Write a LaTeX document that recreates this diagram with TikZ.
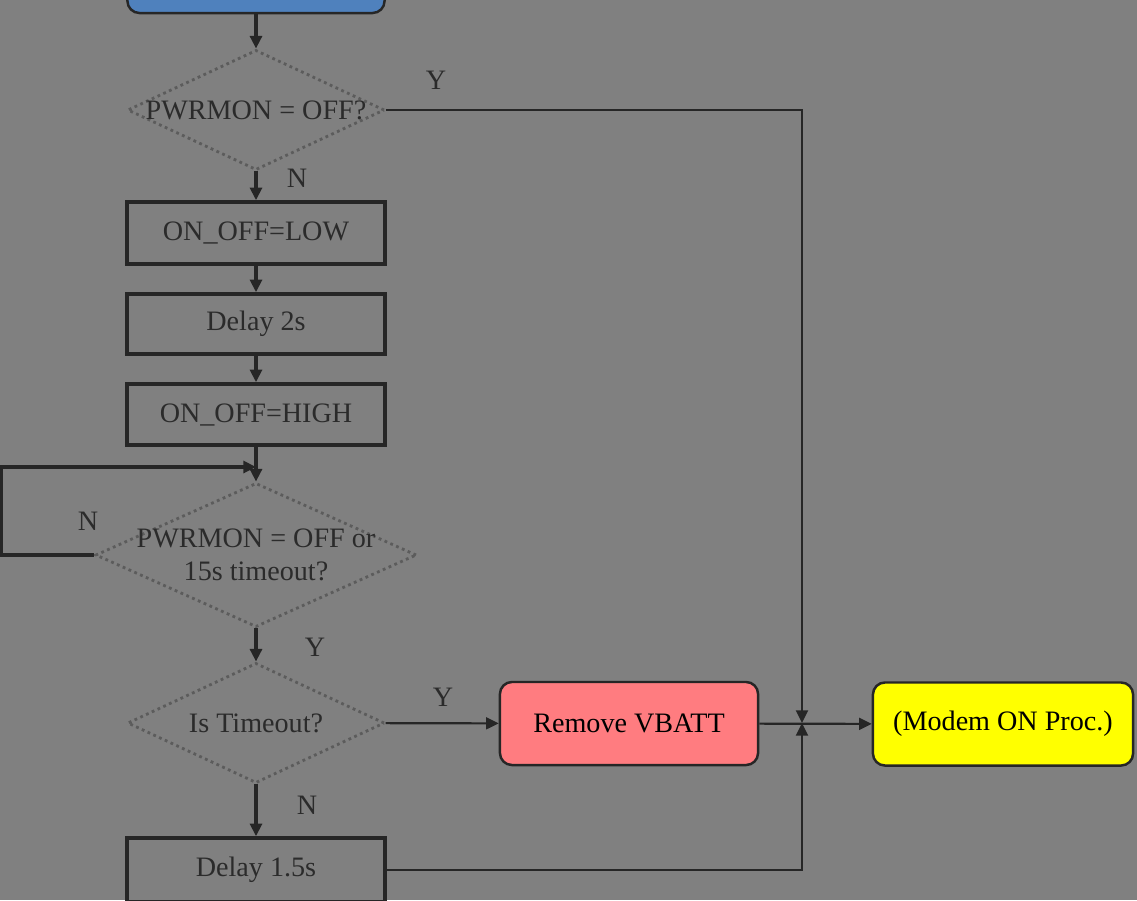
\documentclass[tikz,border=0pt]{standalone}
\usepackage{fontspec}
\setmainfont{Liberation Serif}
\usepackage{tikz}
\usetikzlibrary{shapes,arrows.meta}
\usepackage{xcolor}
\definecolor{bggray}{HTML}{808080}
\definecolor{lineclr}{HTML}{262626}
\definecolor{dotclr}{HTML}{5C5C5C}
\definecolor{txtclr}{HTML}{2B2B2B}
\definecolor{startblue}{HTML}{4F81BD}
\definecolor{vbattred}{HTML}{FF7C80}
\definecolor{modemyel}{HTML}{FFFF00}
\tikzset{
	every node/.style={font=\fontsize{8}{9.5}\selectfont},
	procbox/.style={draw=lineclr, line width=1pt, minimum width=2.58cm, minimum height=0.61cm, text=txtclr},
	decbox/.style={diamond, draw=dotclr, densely dotted, line width=0.8pt, inner sep=0pt},
	termbox/.style={draw=lineclr, line width=0.7pt, rounded corners=0.12cm, text=black, minimum height=0.83cm},
	yn/.style={text=txtclr},
	flow/.style={draw=lineclr, line width=0.9pt, -{Triangle[length=3.6pt,width=3.4pt]}},
	thinflow/.style={flow, line width=0.6pt},
}

\begin{document}
\begin{tikzpicture}[x=0.01cm, y=-0.01cm]
		\fill[bggray] (0,0) rectangle (1137,900);
		\useasboundingbox (0,0) rectangle (1137,900);
		\node[termbox, fill=startblue, minimum width=2.57cm, minimum height=0.7cm] (start) at (256,-22) {};
		\node[decbox, minimum width=2.57cm, minimum height=1.2cm, label={[text=txtclr]center:PWRMON = OFF?}] (pwr) at (256,110) {};
		\node[procbox, minimum height=0.62cm] (low) at (256,233) {ON\_OFF=LOW};
		\node[procbox, minimum height=0.6cm] (dly2) at (256,324) {Delay 2s};
		\node[procbox] (high) at (256,414.5) {ON\_OFF=HIGH};
		\node[decbox, minimum width=3.21cm, minimum height=1.44cm, label={[text=txtclr, align=center]center:PWRMON = OFF or\\15s timeout?}] (pwrto) at (256,555) {};
		\node[decbox, minimum width=2.57cm, minimum height=1.2cm, label={[text=txtclr]center:Is Timeout?}] (isto) at (256,723) {};
		\node[procbox, minimum height=0.64cm] (dly15) at (256,870) {Delay 1.5s};
		\node[termbox, fill=vbattred, minimum width=2.58cm] (vbatt) at (629,723.5) {Remove VBATT};
		\node[termbox, fill=modemyel, minimum width=2.6cm] (modem) at (1003,724) {(Modem ON Proc.)};
		\coordinate (jn) at (802,723);
		\coordinate (mrg) at (256,467);
		\node[yn] (y1) at (436,80) {Y};
		\node[yn] (n1) at (297,178) {N};
		\node[yn] (n2) at (88,521) {N};
		\node[yn] (y2) at (315,647) {Y};
		\node[yn] (y3) at (443,697) {Y};
		\node[yn] (n3) at (307,805) {N};
		\draw[flow] (start) -- (pwr);
		\draw[flow] (pwr) -- (low);
		\draw[flow] (low) -- (dly2);
		\draw[flow] (dly2) -- (high);
		\draw[flow] (high) -- (pwrto);
		\draw[flow] (pwrto.west) -- ++(-93,0) |- (mrg);
		\draw[flow] (pwrto) -- (isto);
		\draw[thinflow] (isto) -- (vbatt);
		\draw[flow] (isto) -- (dly15);
		\draw[thinflow] (pwr.east) -| (jn);
		\draw[thinflow] (dly15.east) -| (jn);
		\draw[thinflow] (vbatt) -- (modem);
\end{tikzpicture}
\end{document}
